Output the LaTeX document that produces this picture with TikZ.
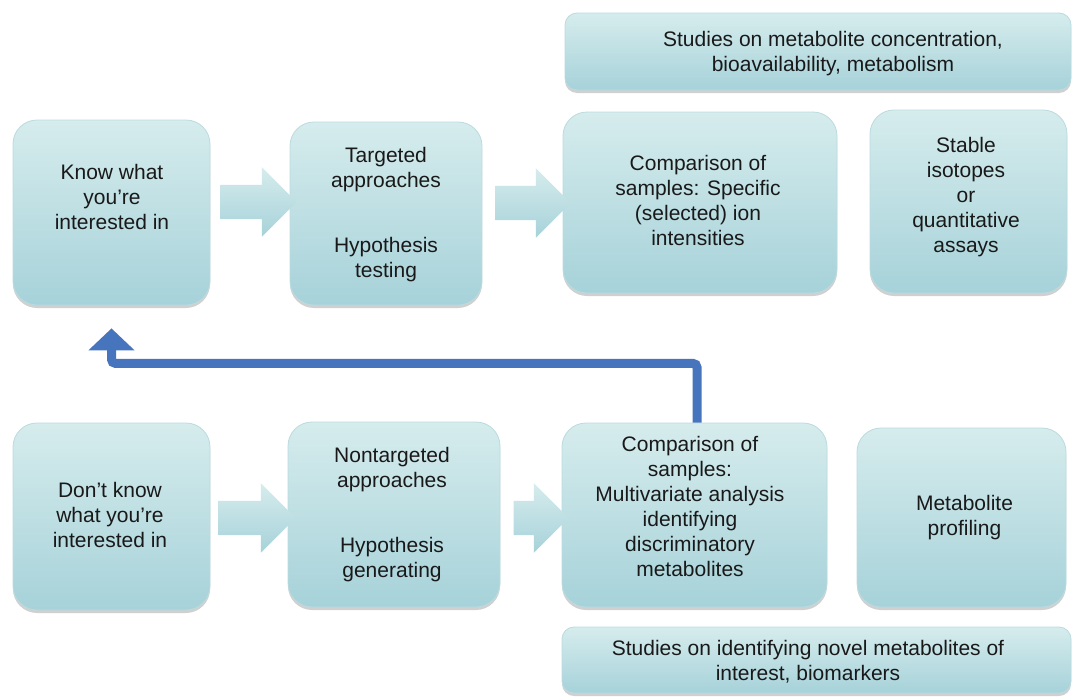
\documentclass[tikz,border=0pt]{standalone}
\usepackage{fontspec}
\setmainfont{Liberation Sans}
\usetikzlibrary{shapes.arrows,shadows,arrows.meta}
\definecolor{boxtop}{RGB}{214,236,237}
\definecolor{boxbot}{RGB}{166,210,217}
\definecolor{boxline}{RGB}{186,219,223}
\definecolor{fbblue}{RGB}{70,117,190}
\definecolor{txtcol}{RGB}{25,25,25}
\begin{document}
\begin{tikzpicture}[x=1pt,y=-1pt,
  box/.style={rounded corners=24pt, top color=boxtop, bottom color=boxbot,
    draw=boxline, line width=0.8pt, inner sep=0pt,
    drop shadow={shadow xshift=0pt, shadow yshift=-3pt, opacity=0.3, fill=black!60}},
  widebox/.style={box, rounded corners=12pt},
  barrow/.style={single arrow, single arrow head extend=17.5pt,
    inner xsep=0pt, inner ysep=17pt, top color=boxtop, bottom color=boxbot, draw=none},
  txtn/.style={align=center, font=\fontsize{21}{25}\selectfont, text=txtcol, inner sep=0pt},
  feedback/.style={draw=fbblue, line width=9pt, rounded corners=4pt,
    -{Triangle[width=45pt,length=22pt]}}
]
\fill[white] (0,0) rectangle (1073,696);
\useasboundingbox (0,0) rectangle (1073,696);

% top row
\node[widebox, minimum width=506pt, minimum height=77pt] (T) at (818,51.5) {};
\node[txtn] (Tt) at (833,54) {Studies on metabolite concentration,\\bioavailability, metabolism};

\node[box, minimum width=197pt, minimum height=185pt] (A) at (111.5,212.5) {};
\node[txtn] (At) at (112,197) {Know what\\you’re\\interested in};

\node[box, minimum width=192pt, minimum height=183pt] (B) at (386,213.5) {};
\node[txtn] (Bt) at (386,215) {Targeted\\approaches\\[40pt]Hypothesis\\testing};

\node[box, minimum width=274pt, minimum height=181pt] (C) at (700,202.5) {};
\node[txtn] (Ct) at (698,200) {Comparison of\\samples: Specific\\(selected) ion\\intensities};

\node[box, minimum width=197pt, minimum height=183pt] (D) at (968.5,201.5) {};
\node[txtn] (Dt) at (966,197) {Stable\\isotopes\\or\\quantitative\\assays};

\node[barrow, minimum height=76pt] (a1) at (250,202) {};
\node[barrow, minimum height=75pt] (a2) at (524.5,203) {};

% bottom row
\node[box, minimum width=197pt, minimum height=187pt] (G) at (111.5,516.5) {};
\node[txtn] (Gt) at (110,515) {Don’t know\\what you’re\\interested in};

\node[box, minimum width=212pt, minimum height=185pt] (H) at (394,514.5) {};
\node[txtn] (Ht) at (392,514.5) {Nontargeted\\approaches\\[40pt]Hypothesis\\generating};

\node[box, minimum width=265pt, minimum height=184pt] (E) at (694.5,515) {};
\node[txtn] (Et) at (690,506) {Comparison of\\samples:\\Multivariate analysis\\identifying\\discriminatory\\metabolites};

\node[box, minimum width=209pt, minimum height=179pt] (F) at (961.5,517.5) {};
\node[txtn] (Ft) at (964.5,517.5) {Metabolite\\profiling};

\node[widebox, minimum width=509pt, minimum height=66pt] (Bb) at (816.5,660) {};
\node[txtn] (Bbt) at (808,662) {Studies on identifying novel metabolites of\\interest, biomarkers};

\node[barrow, minimum height=77pt] (a3) at (248.5,518) {};
\node[barrow, minimum height=55pt] (a4) at (532.5,518) {};

% feedback connector
\draw[feedback] ([xshift=2.5pt]E.north) |- ([yshift=-58pt]A.south) -- ([yshift=-23pt]A.south);
\end{tikzpicture}
\end{document}
